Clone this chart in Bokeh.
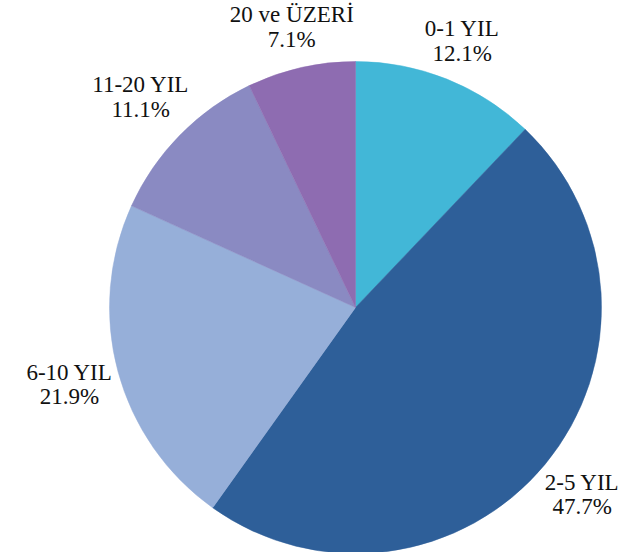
import math
from bokeh.plotting import figure
from bokeh.models import Range1d, ColumnDataSource
from bokeh.core.properties import value
from bokeh.embed import file_html
from bokeh.resources import INLINE

categories = ["0-1 YIL", "2-5 YIL", "6-10 YIL", "11-20 YIL", "20 ve ÜZERİ"]
percents = [12.1, 47.7, 21.9, 11.1, 7.1]
colors = ["#42B7D7", "#2E5F99", "#96AFD9", "#8A8AC2", "#8E6CB1"]

W, H = 625, 552
p = figure(width=W, height=H, output_backend="svg", toolbar_location=None,
           x_range=Range1d(0, W), y_range=Range1d(-H, 0),
           min_border=0, outline_line_color=None)
p.axis.visible = False
p.grid.visible = False
p.background_fill_color = "white"
p.border_fill_color = "white"

cx, cy, r = 355, -307, 246
total = sum(percents)
starts, ends, lx, ly1, ly2, l1, l2 = [], [], [], [], [], [], []
cum = 0.0
for cat, pct in zip(categories, percents):
    a0 = math.pi / 2 - 2 * math.pi * cum / total
    cum += pct
    a1 = math.pi / 2 - 2 * math.pi * cum / total
    starts.append(a0)
    ends.append(a1)
    mid = (a0 + a1) / 2
    # label box just outside the pie edge
    tw = len(cat) * 10.0
    hw, hh = tw / 2, 25
    ext = hw * abs(math.cos(mid)) + hh * abs(math.sin(mid))
    d = r + 5 + ext
    x = cx + d * math.cos(mid)
    y = cy + d * math.sin(mid)
    lx.append(x)
    ly1.append(y + 12.25)
    ly2.append(y - 12.25)
    l1.append(cat)
    l2.append(f"{pct:.1f}%")

src = ColumnDataSource(dict(start=starts, end=ends, color=colors))
p.wedge(x=cx, y=cy, radius=r, start_angle="start", end_angle="end",
        direction="clock", fill_color="color", line_color="color", line_width=0.5,
        source=src)

lsrc = ColumnDataSource(dict(x=lx, y1=ly1, y2=ly2, t1=l1, t2=l2))
for yk, tk in (("y1", "t1"), ("y2", "t2")):
    p.text(x="x", y=yk, text=tk, source=lsrc, text_align="center",
           text_baseline="middle",
           text_font=value("serif"),
           text_font_size="23px", text_color="#111111")

open("out.html", "w").write(file_html(p, INLINE))
